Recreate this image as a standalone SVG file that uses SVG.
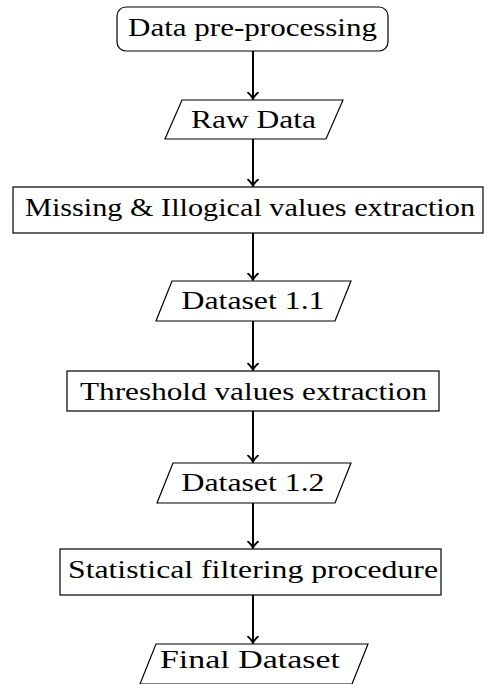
<svg xmlns="http://www.w3.org/2000/svg" width="486" height="684" viewBox="0 0 486 684">
  <style>
    .box { fill: #ffffff; stroke: #000000; stroke-width: 1.2; }
    .lbl { font-family: "Liberation Serif", "Times New Roman", serif; font-size: 26px; fill: #000000; text-anchor: middle; }
    .edge { stroke: #000000; stroke-width: 2; fill: none; marker-end: url(#tip); }
  </style>
  <defs>
    <marker id="tip" viewBox="-6 -6 8 12" refX="1" refY="0" markerWidth="8" markerHeight="12" markerUnits="userSpaceOnUse" orient="auto">
      <path d="M -5.5 -5 Q -2 -1 1 0 Q -2 1 -5.5 5" fill="none" stroke="#000000" stroke-width="1.8" stroke-linecap="round"/>
    </marker>
  </defs>
  <rect width="486" height="684" fill="#ffffff"/>
  <g id="connectors">
    <line class="edge" x1="253" y1="51" x2="253" y2="99"/>
    <line class="edge" x1="253" y1="139" x2="253" y2="186"/>
    <line class="edge" x1="253" y1="233" x2="253" y2="280"/>
    <line class="edge" x1="253" y1="321" x2="253" y2="370"/>
    <line class="edge" x1="253" y1="411" x2="253" y2="462"/>
    <line class="edge" x1="253" y1="503" x2="253" y2="548"/>
    <line class="edge" x1="253" y1="595" x2="253" y2="643"/>
  </g>
  <g id="n1">
    <rect class="box" x="117" y="7" width="271" height="44" rx="9" ry="9"/>
    <text class="lbl" x="252.5" y="36" textLength="249" lengthAdjust="spacingAndGlyphs">Data pre-processing</text>
  </g>
  <g id="n2">
    <polygon class="box" points="182,100 343,100 326,139 165,139"/>
    <text class="lbl" x="253.5" y="128" textLength="125" lengthAdjust="spacingAndGlyphs">Raw Data</text>
  </g>
  <g id="n3">
    <rect class="box" x="13" y="187" width="470" height="46"/>
    <text class="lbl" x="250" y="216" textLength="450" lengthAdjust="spacingAndGlyphs">Missing &amp; Illogical values extraction</text>
  </g>
  <g id="n4">
    <polygon class="box" points="172,281 351,281 335,321 156,321"/>
    <text class="lbl" x="253" y="309" textLength="143" lengthAdjust="spacingAndGlyphs">Dataset 1.1</text>
  </g>
  <g id="n5">
    <rect class="box" x="67" y="371" width="372" height="40"/>
    <text class="lbl" x="253.5" y="400" textLength="347" lengthAdjust="spacingAndGlyphs">Threshold values extraction</text>
  </g>
  <g id="n6">
    <polygon class="box" points="173,463 351,463 335,503 157,503"/>
    <text class="lbl" x="253" y="491" textLength="143" lengthAdjust="spacingAndGlyphs">Dataset 1.2</text>
  </g>
  <g id="n7">
    <rect class="box" x="60" y="549" width="381" height="46"/>
    <text class="lbl" x="253" y="578" textLength="370" lengthAdjust="spacingAndGlyphs">Statistical filtering procedure</text>
  </g>
  <g id="n8">
    <polygon class="box" points="156,644 368,644 352,684 140,684"/>
    <text class="lbl" x="250" y="668" textLength="180" lengthAdjust="spacingAndGlyphs">Final Dataset</text>
  </g>
</svg>
